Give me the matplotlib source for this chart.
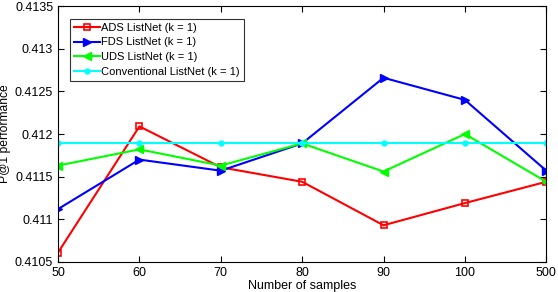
import numpy as np
import matplotlib
matplotlib.use("Agg")
import matplotlib.pyplot as plt

plt.rcParams['font.family'] = ['Liberation Sans', 'DejaVu Sans']

# tick labels on x (evenly spaced categories)
samples = ["50", "60", "70", "80", "90", "100", "500"]

ads = [0.41061, 0.41209, 0.41161, 0.41144, 0.41093, 0.41119, 0.41144]
fds = [0.41112, 0.41170, 0.41157, 0.41189, 0.41266, 0.41240, 0.41157]
uds = [0.41163, 0.41182, 0.41163, 0.41189, 0.41156, 0.41200, 0.41144]
conv = [0.41190, 0.41190, 0.41190, 0.41190, 0.41190, 0.41190, 0.41190]

x = np.arange(len(samples))

fig = plt.figure(figsize=(5.58, 2.92), dpi=100)
ax = fig.add_axes([0.104, 0.103, 0.875, 0.876])

ax.plot(x, ads, color='red', marker='s', markersize=4, markerfacecolor='none',
        markeredgewidth=1.2, linewidth=1.5, label='ADS ListNet (k = 1)')
ax.plot(x, fds, color='blue', marker='>', markersize=6, linewidth=1.5,
        label='FDS ListNet (k = 1)')
ax.plot(x, uds, color='#00ff00', marker='<', markersize=6, linewidth=1.5,
        label='UDS ListNet (k = 1)')
ax.plot(x, conv, color='cyan', marker='o', markersize=3.5, linewidth=1.5,
        label='Conventional ListNet (k = 1)')

ax.set_xlim(0, len(samples) - 1)
ax.set_ylim(0.4105, 0.4135)
ax.set_xticks(x)
ax.set_xticklabels(samples)
yt = [0.4105, 0.411, 0.4115, 0.412, 0.4125, 0.413, 0.4135]
ax.set_yticks(yt)
ax.set_yticklabels(["0.4105", "0.411", "0.4115", "0.412", "0.4125", "0.413", "0.4135"])
ax.tick_params(direction='in', top=True, right=True, labelsize=9, length=4)
for s in ax.spines.values():
    s.set_linewidth(0.8)

ax.set_xlabel("Number of samples", fontsize=9, labelpad=1)
ax.set_ylabel("P@1 performance", fontsize=8.7, labelpad=3)

leg = ax.legend(loc='upper left', bbox_to_anchor=(0.025, 0.95), fontsize=8,
                frameon=True, fancybox=False, handlelength=2.3,
                borderpad=0.35, labelspacing=0.42, handletextpad=0.15,
                borderaxespad=0.0)
leg.get_frame().set_edgecolor('black')
leg.get_frame().set_linewidth(0.8)

fig.savefig("out.png", dpi=100)
